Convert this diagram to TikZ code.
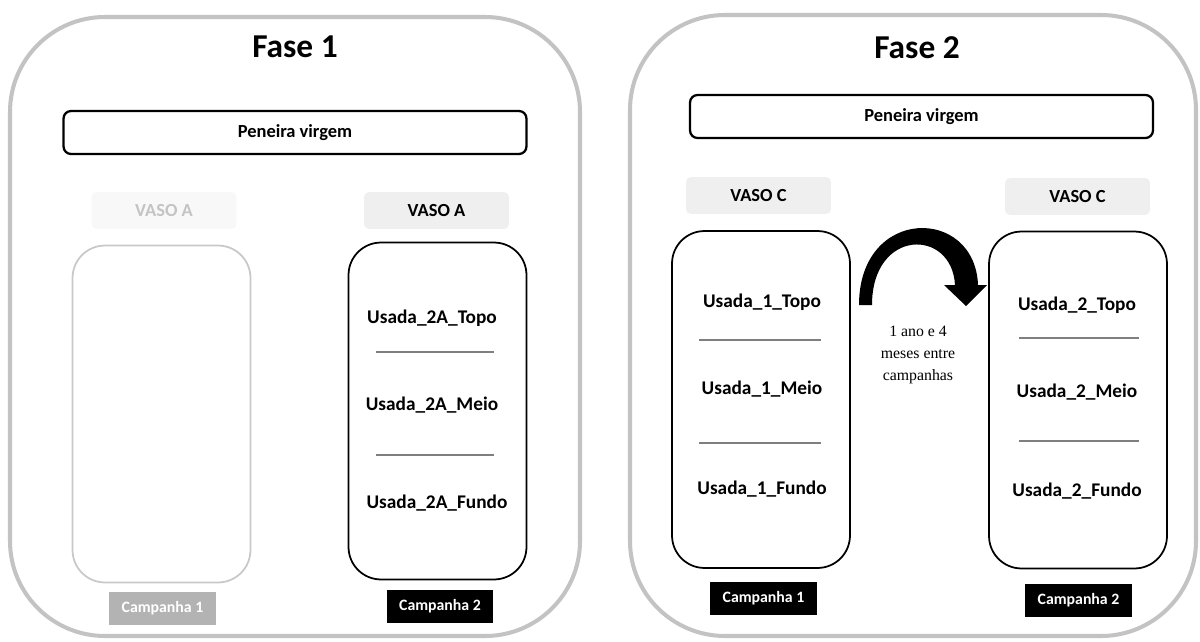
\documentclass[tikz,border=0pt]{standalone}
\usepackage{fontspec}
\setmainfont{Carlito}
\newfontfamily\serifnote{Liberation Serif}
\definecolor{panelgray}{HTML}{C3C3C3}
\definecolor{tagfill}{HTML}{EFEFEF}
\definecolor{fadefill}{HTML}{F8F8F8}
\definecolor{fadetext}{HTML}{C4C4C4}
\definecolor{fadeline}{HTML}{C8C8C8}
\definecolor{campgray}{HTML}{B3B3B3}
\definecolor{rulegray}{HTML}{7F7F7F}
\tikzset{
  panel/.style={draw=panelgray, line width=2.3pt, rounded corners=1.9cm},
  sieve/.style={draw, line width=1.3pt, rounded corners=0.15cm, minimum width=9.26cm, minimum height=0.86cm, font=\bfseries\fontsize{10.5}{12}\selectfont},
  vaso/.style={fill=tagfill, rounded corners=0.1cm, minimum width=2.9cm, minimum height=0.74cm, font=\bfseries\fontsize{10.5}{12}\selectfont},
  vessel/.style={draw, line width=1pt, rounded corners=0.65cm, minimum width=3.56cm, minimum height=6.74cm},
  layer/.style={font=\bfseries\fontsize{11}{13}\selectfont},
  camp/.style={fill=black, text=white, minimum width=2.14cm, minimum height=0.66cm, font=\bfseries\fontsize{9}{10}\selectfont},
  divider/.style={draw=rulegray, line width=0.7pt},
}
\begin{document}
\begin{tikzpicture}[x=0.02cm, y=-0.02cm]
  \useasboundingbox (0,0) rectangle (1200,642);

  % Fase 1
  \draw[panel] (10,17) rectangle (580,636);
  \node[font=\bfseries\fontsize{19}{22}\selectfont] (f1) at (295,47) {Fase 1};
  \node[sieve] (p1) at (295,132.5) {Peneira virgem};
  \node[vaso, fill=fadefill, text=fadetext] (va1) at (164,210.5) {VASO A};
  \node[vaso] (va2) at (436.5,210.5) {VASO A};
  \node[vessel, draw=fadeline] (v1) at (161.5,414) {};
  \node[vessel] (v2) at (437.5,411) {};
  \node[layer] (t2a) at (432,318) {Usada\_2A\_Topo};
  \node[layer] (m2a) at (432,405) {Usada\_2A\_Meio};
  \node[layer] (b2a) at (437,503) {Usada\_2A\_Fundo};
  \coordinate (l1a) at (376,352); \coordinate (l1b) at (494,352);
  \coordinate (l2a) at (376,455); \coordinate (l2b) at (494,455);
  \draw[divider] (l1a) -- (l1b);
  \draw[divider] (l2a) -- (l2b);
  \node[camp, fill=campgray] (c1) at (162.5,608) {Campanha 1};
  \node[camp] (c2) at (440,606) {Campanha 2};

  % Fase 2
  \draw[panel] (630,15) rectangle (1196,636);
  \node[font=\bfseries\fontsize{19}{22}\selectfont] (f2) at (917,48) {Fase 2};
  \node[sieve] (p2) at (921.5,116.5) {Peneira virgem};
  \node[vaso] (vc1) at (758.5,195.5) {VASO C};
  \node[vaso] (vc2) at (1077.5,196.5) {VASO C};
  \node[vessel] (v3) at (761,399.5) {};
  \node[vessel] (v4) at (1078,400) {};
  \node[layer] (t1) at (762,302) {Usada\_1\_Topo};
  \node[layer] (m1) at (762,389) {Usada\_1\_Meio};
  \node[layer] (b1) at (762,489) {Usada\_1\_Fundo};
  \node[layer] (t2) at (1077,305) {Usada\_2\_Topo};
  \node[layer] (m2) at (1077,392) {Usada\_2\_Meio};
  \node[layer] (b2) at (1077,491) {Usada\_2\_Fundo};
  \coordinate (r1a) at (699,340); \coordinate (r1b) at (821,340);
  \coordinate (r2a) at (699,443); \coordinate (r2b) at (821,443);
  \coordinate (s1a) at (1019,338); \coordinate (s1b) at (1139,338);
  \coordinate (s2a) at (1019,441); \coordinate (s2b) at (1139,441);
  \draw[divider] (r1a) -- (r1b);
  \draw[divider] (r2a) -- (r2b);
  \draw[divider] (s1a) -- (s1b);
  \draw[divider] (s2a) -- (s2b);
  \node[camp] (c3) at (763.5,598.5) {Campanha 1};
  \node[camp] (c4) at (1078.5,600) {Campanha 2};

  % curved arrow between campaigns
  \fill (859,305) .. controls (859,206) and (975,206) .. (978,285)
    -- (987,285) -- (966,306) -- (944,285) -- (955,285)
    .. controls (952,228) and (872,228) .. (872,305) -- cycle;
  \node[font=\serifnote\fontsize{9}{12.5}\selectfont, align=center] (gap) at (918,355)
    {1 ano e 4\\meses entre\\campanhas};
\end{tikzpicture}
\end{document}
